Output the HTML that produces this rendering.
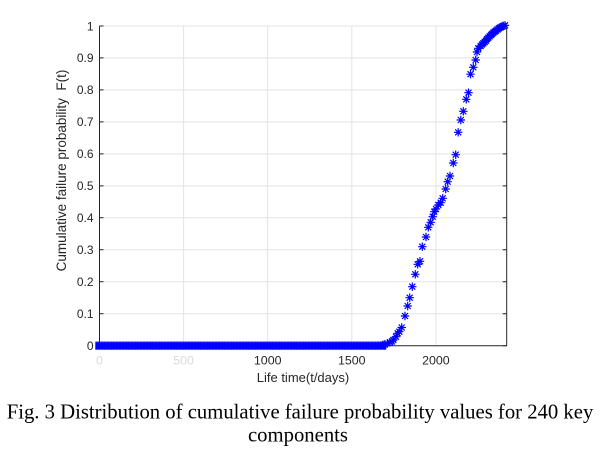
<!DOCTYPE html>
<html>
<head>
<meta charset="utf-8">
<style>
html,body{margin:0;padding:0;background:#fff;}
svg{display:block;}
</style>
</head>
<body>
<svg width="600" height="468" viewBox="0 0 600 468" xmlns="http://www.w3.org/2000/svg">
<defs>
<path id="a" d="M-4.2 0H4.2M0-4.2V4.2M-3-3L3 3M-3 3L3-3" stroke="#0000ff" stroke-width="1.2" fill="none"/>
<pattern id="p" patternUnits="userSpaceOnUse" x="0" y="340" width="1.5" height="12">
<g transform="translate(0,5.7)">
<use href="#a" x="-3.75"/><use href="#a" x="-2.25"/><use href="#a" x="-0.75"/><use href="#a" x="0.75"/><use href="#a" x="2.25"/><use href="#a" x="3.75"/><use href="#a" x="5.25"/>
</g>
</pattern>
</defs>
<rect width="600" height="468" fill="#fff"/>
<g stroke="#e3e3e3" stroke-width="1">
<line x1="183.6" y1="26" x2="183.6" y2="345.7"/>
<line x1="267.7" y1="26" x2="267.7" y2="345.7"/>
<line x1="351.8" y1="26" x2="351.8" y2="345.7"/>
<line x1="435.9" y1="26" x2="435.9" y2="345.7"/>
<line x1="99.5" y1="313.7" x2="506.7" y2="313.7"/>
<line x1="99.5" y1="281.8" x2="506.7" y2="281.8"/>
<line x1="99.5" y1="249.8" x2="506.7" y2="249.8"/>
<line x1="99.5" y1="217.8" x2="506.7" y2="217.8"/>
<line x1="99.5" y1="185.85" x2="506.7" y2="185.85"/>
<line x1="99.5" y1="153.9" x2="506.7" y2="153.9"/>
<line x1="99.5" y1="121.9" x2="506.7" y2="121.9"/>
<line x1="99.5" y1="89.9" x2="506.7" y2="89.9"/>
<line x1="99.5" y1="57.9" x2="506.7" y2="57.9"/>
<line x1="99.5" y1="26" x2="506.7" y2="26"/>
</g>
<g stroke="#262626" stroke-width="1" fill="none">
<line x1="99.5" y1="26" x2="99.5" y2="346"/>
<line x1="506.7" y1="26" x2="506.7" y2="346"/>
<line x1="99.5" y1="345.7" x2="506.7" y2="345.7"/>
<path d="M99.5 313.7h4M99.5 281.8h4M99.5 249.8h4M99.5 217.8h4M99.5 185.85h4M99.5 153.9h4M99.5 121.9h4M99.5 89.9h4M99.5 57.9h4M99.5 26h4"/>
<path d="M506.7 345.7h-4M506.7 313.7h-4M506.7 281.8h-4M506.7 249.8h-4M506.7 217.8h-4M506.7 185.85h-4M506.7 153.9h-4M506.7 121.9h-4M506.7 89.9h-4M506.7 57.9h-4M506.7 26h-4"/>
</g>
<rect x="95.3" y="340" width="291" height="12" fill="url(#p)"/>
<g>
<use href="#a" x="383" y="344.8"/>
<use href="#a" x="385" y="344.3"/>
<use href="#a" x="387.3" y="343.5"/>
<use href="#a" x="390" y="342.3"/>
<use href="#a" x="392" y="341.5"/>
<use href="#a" x="393.3" y="340"/>
<use href="#a" x="396" y="336.7"/>
<use href="#a" x="397.7" y="333.3"/>
<use href="#a" x="399.3" y="331.7"/>
<use href="#a" x="401.7" y="327.5"/>
<use href="#a" x="405" y="316"/>
<use href="#a" x="407.7" y="306"/>
<use href="#a" x="409.7" y="297.7"/>
<use href="#a" x="412.3" y="286.7"/>
<use href="#a" x="415.3" y="274.3"/>
<use href="#a" x="417.7" y="264.3"/>
<use href="#a" x="420" y="261.3"/>
<use href="#a" x="422.3" y="246.7"/>
<use href="#a" x="426" y="237"/>
<use href="#a" x="428.3" y="227.3"/>
<use href="#a" x="430.7" y="222.3"/>
<use href="#a" x="432.7" y="216.7"/>
<use href="#a" x="434.3" y="211.7"/>
<use href="#a" x="436" y="209"/>
<use href="#a" x="438.3" y="205"/>
<use href="#a" x="440.7" y="202.7"/>
<use href="#a" x="442.7" y="198.3"/>
<use href="#a" x="445.7" y="189"/>
<use href="#a" x="447.7" y="181.7"/>
<use href="#a" x="450" y="176"/>
<use href="#a" x="453.3" y="163"/>
<use href="#a" x="455.7" y="154.7"/>
<use href="#a" x="458.2" y="132.3"/>
<use href="#a" x="460.8" y="120"/>
<use href="#a" x="463.3" y="111.3"/>
<use href="#a" x="466.3" y="99.3"/>
<use href="#a" x="468.5" y="92.7"/>
<use href="#a" x="470.5" y="74.2"/>
<use href="#a" x="473.3" y="67.3"/>
<use href="#a" x="475.7" y="60"/>
<use href="#a" x="477" y="52"/>
<use href="#a" x="478.3" y="48.3"/>
<use href="#a" x="480.7" y="46"/>
<use href="#a" x="482" y="44.5"/>
<use href="#a" x="483.3" y="43.3"/>
<use href="#a" x="484.7" y="42"/>
<use href="#a" x="486" y="40.7"/>
<use href="#a" x="487" y="39"/>
<use href="#a" x="488.3" y="37.7"/>
<use href="#a" x="489.7" y="36.3"/>
<use href="#a" x="491" y="35"/>
<use href="#a" x="492" y="34"/>
<use href="#a" x="493.3" y="32.7"/>
<use href="#a" x="494.7" y="31.7"/>
<use href="#a" x="496" y="30.7"/>
<use href="#a" x="497.5" y="29.5"/>
<use href="#a" x="499" y="28.3"/>
<use href="#a" x="500.3" y="27.5"/>
<use href="#a" x="501.7" y="26.7"/>
<use href="#a" x="503.3" y="26"/>
<use href="#a" x="505" y="25.3"/>
</g>
<g font-family="'Liberation Sans', Arial, sans-serif" font-size="12" fill="#262626" text-anchor="end">
<text x="93.5" y="350">0</text>
<text x="93.5" y="318">0.1</text>
<text x="93.5" y="286.1">0.2</text>
<text x="93.5" y="254.1">0.3</text>
<text x="93.5" y="222.1">0.4</text>
<text x="93.5" y="190.15">0.5</text>
<text x="93.5" y="158.2">0.6</text>
<text x="93.5" y="126.2">0.7</text>
<text x="93.5" y="94.2">0.8</text>
<text x="93.5" y="62.2">0.9</text>
<text x="93.5" y="30.3">1</text>
</g>
<g font-family="'Liberation Sans', Arial, sans-serif" font-size="12.4" text-anchor="middle">
<text x="99.5" y="364.5" fill="#dadada">0</text>
<text x="183.6" y="364.5" fill="#dadada">500</text>
<text x="267.7" y="364.5" fill="#262626">1000</text>
<text x="351.8" y="364.5" fill="#262626">1500</text>
<text x="435.9" y="364.5" fill="#262626">2000</text>
</g>
<text x="303" y="382" font-family="'Liberation Sans', Arial, sans-serif" font-size="13" fill="#262626" text-anchor="middle">Life time(t/days)</text>
<text transform="translate(66,170.5) rotate(-90)" font-family="'Liberation Sans', Arial, sans-serif" font-size="13.5" fill="#262626" text-anchor="middle" xml:space="preserve">Cumulative failure probability  F(t)</text>
<g font-family="'Liberation Serif', 'Times New Roman', serif" font-size="20.7" fill="#000" text-anchor="middle">
<text x="300" y="418.3">Fig. 3 Distribution of cumulative failure probability values for 240 key</text>
<text x="298" y="441.5">components</text>
</g>
</svg>
</body>
</html>
